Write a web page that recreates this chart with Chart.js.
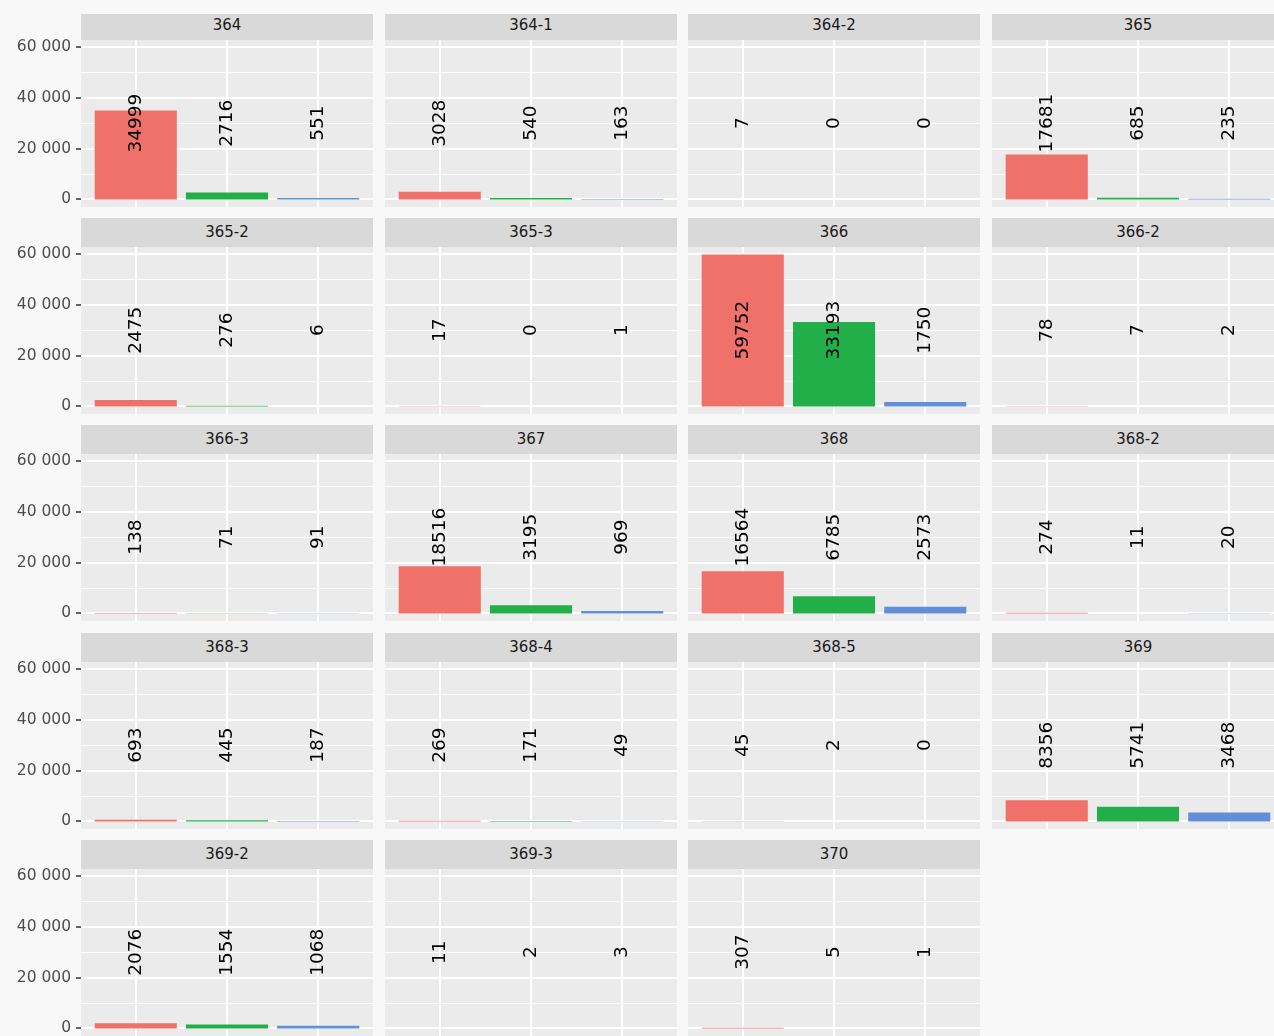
<!DOCTYPE html>
<html>
<head>
<meta charset="utf-8">
<script src="https://cdn.jsdelivr.net/npm/chart.js@4.4.1/dist/chart.umd.min.js"></script>
<style>
  html, body { margin: 0; padding: 0; background: #F8F8F8; }
  body { width: 1274px; height: 1036px; overflow: hidden; position: relative; font-family: "DejaVu Sans", sans-serif; }
  .strip { position: absolute; background: #D9D9D9; color: #1A1A1A; font-size: 15px; text-align: center; white-space: nowrap; }
  .panel { position: absolute; display: block; }
</style>
</head>
<body>
<script>
// One facet per site code, three counts per facet
const panelNames = ['364', '364-1', '364-2', '365', '365-2', '365-3', '366', '366-2', '366-3', '367',
                    '368', '368-2', '368-3', '368-4', '368-5', '369', '369-2', '369-3', '370'];
const redValues   = [34999, 3028, 7, 17681, 2475, 17, 59752, 78, 138, 18516, 16564, 274, 693, 269, 45, 8356, 2076, 11, 307];
const greenValues = [2716, 540, 0, 685, 276, 0, 33193, 7, 71, 3195, 6785, 11, 445, 171, 2, 5741, 1554, 2, 5];
const blueValues  = [551, 163, 0, 235, 6, 1, 1750, 2, 91, 969, 2573, 20, 187, 49, 0, 3468, 1068, 3, 1];
const yTickValues = [0, 10000, 20000, 30000, 40000, 50000, 60000];
const labelLevel = 30000;   // value at which the rotated count labels are centred

const barColors = ['#F0716A', '#22AF4A', '#6190D8'];
const NCOL = 4;
const AXIS_W = 81, PANEL_W = 292, PANEL_H = 167, PAD_TOP = 6, STRIP_H = 29;
const colLeft = c => Math.round(81 + 303.6 * c);
const rowTop  = r => Math.round(39.7 + 207.3 * r);

// shared y range with 5% expansion on both ends
const peak = Math.max(...redValues, ...greenValues, ...blueValues);
const yMin = -0.05 * peak, yMax = 1.05 * peak;

const fmt = v => String(v).replace(/\B(?=(\d{3})+(?!\d))/g, ' ');

const panelBackground = {
  id: 'panelBackground',
  beforeDraw(chart) {
    const { ctx, chartArea: a } = chart;
    ctx.save();
    ctx.fillStyle = '#EBEBEB';
    ctx.fillRect(a.left, a.top, a.right - a.left, a.bottom - a.top);
    ctx.restore();
  }
};

const valueLabels = {
  id: 'valueLabels',
  afterDatasetsDraw(chart) {
    const ctx = chart.ctx;
    const meta = chart.getDatasetMeta(0);
    const data = chart.data.datasets[0].data;
    const y = chart.scales.y.getPixelForValue(labelLevel);
    ctx.save();
    ctx.font = '18.5px "DejaVu Sans"';
    ctx.fillStyle = '#000000';
    ctx.textAlign = 'center';
    ctx.textBaseline = 'middle';
    meta.data.forEach((bar, i) => {
      ctx.save();
      ctx.translate(bar.x, y);
      ctx.rotate(-Math.PI / 2);
      ctx.fillText(String(data[i].y), 0, 0);
      ctx.restore();
    });
    ctx.restore();
  }
};

panelNames.forEach((name, i) => {
  const col = i % NCOL, row = Math.floor(i / NCOL);
  const showAxis = col === 0;
  const top = rowTop(row);

  const strip = document.createElement('div');
  strip.className = 'strip';
  strip.textContent = name;
  strip.style.left = colLeft(col) + 'px';
  strip.style.top = (top - STRIP_H) + 'px';
  strip.style.width = PANEL_W + 'px';
  strip.style.height = STRIP_H + 'px';
  strip.style.lineHeight = STRIP_H + 'px';
  if (row === 0) strip.style.clipPath = 'inset(3px 0 0 0)';
  document.body.appendChild(strip);

  const canvas = document.createElement('canvas');
  canvas.className = 'panel';
  const left = showAxis ? 0 : colLeft(col);
  const width = showAxis ? AXIS_W + PANEL_W : PANEL_W;
  canvas.width = width;
  canvas.height = PANEL_H + PAD_TOP;
  canvas.style.left = left + 'px';
  canvas.style.top = (top - PAD_TOP) + 'px';
  canvas.style.width = width + 'px';
  canvas.style.height = (PANEL_H + PAD_TOP) + 'px';
  document.body.appendChild(canvas);

  const values = [redValues[i], greenValues[i], blueValues[i]];

  new Chart(canvas, {
    type: 'bar',
    data: {
      datasets: [{
        data: values.map((v, k) => ({ x: k + 1, y: v })),
        backgroundColor: barColors,
        borderWidth: 0,
        inflateAmount: 0,
        // a base just off the zero tick keeps bars flush with the zero line
        // (no half-gridline offset), so near-zero counts stay invisible
        base: 1e-9,
        categoryPercentage: 1,
        barPercentage: 0.9
      }]
    },
    options: {
      responsive: false,
      animation: false,
      devicePixelRatio: 1,
      layout: { padding: { top: PAD_TOP, left: 0, right: 0, bottom: 0 } },
      plugins: { legend: { display: false }, tooltip: { enabled: false }, title: { display: false } },
      scales: {
        x: {
          type: 'linear', min: 0.4, max: 3.6, bounds: 'data', offset: false,
          afterBuildTicks: s => { s.ticks = [1, 2, 3].map(v => ({ value: v })); },
          afterFit: s => { s.height = 0; s.paddingLeft = 0; s.paddingRight = 0; s.paddingTop = 0; s.paddingBottom = 0; },
          border: { display: false },
          grid: { color: '#FFFFFF', lineWidth: 2, drawTicks: false, offset: false },
          ticks: { display: false }
        },
        y: {
          type: 'linear', min: yMin, max: yMax, bounds: 'data',
          afterBuildTicks: s => { s.ticks = yTickValues.map(v => ({ value: v })); },
          afterFit: s => { s.width = showAxis ? AXIS_W : 0; s.paddingTop = 0; s.paddingBottom = 0; s.paddingLeft = 0; s.paddingRight = 0; },
          border: { display: false },
          grid: {
            color: '#FFFFFF',
            lineWidth: c => (c.tick && c.tick.value % 20000 === 0) ? 2 : 1,
            drawTicks: showAxis,
            tickLength: 5,
            tickWidth: 1.5,
            tickColor: c => (c.tick && c.tick.value % 20000 === 0) ? '#333333' : 'rgba(0,0,0,0)'
          },
          ticks: {
            display: showAxis,
            autoSkip: false,
            padding: 5,
            color: '#4D4D4D',
            font: { family: 'DejaVu Sans', size: 15.5 },
            callback: v => v % 20000 === 0 ? fmt(v) : ''
          }
        }
      }
    },
    plugins: [panelBackground, valueLabels]
  });
});
</script>
</body>
</html>
